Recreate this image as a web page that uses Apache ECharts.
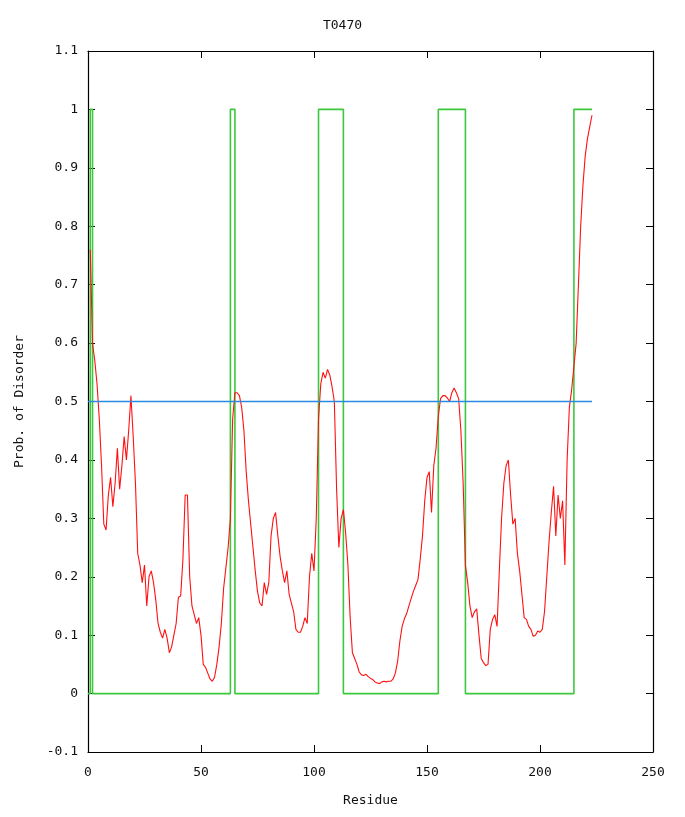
<!DOCTYPE html>
<html>
<head>
<meta charset="utf-8">
<script src="https://cdn.jsdelivr.net/npm/echarts@6/dist/echarts.min.js"></script>
<style>
  html, body { margin: 0; padding: 0; background: #fff; }
  #chart { width: 685px; height: 817px; }
</style>
</head>
<body>
<div id="chart"></div>
<script>
// ---- data ----
const chartTitle = 'T0470';
const xAxisTitle = 'Residue';
const yAxisTitle = 'Prob. of Disorder';

// probability of disorder for residues 1..223
const firstResidue = 1;
const disorderProb = [
  0.76, 0.60, 0.57, 0.53, 0.47, 0.39, 0.29, 0.28, 0.34, 0.37,
  0.32, 0.36, 0.42, 0.35, 0.39, 0.44, 0.40, 0.45, 0.51, 0.44,
  0.36, 0.24, 0.22, 0.19, 0.22, 0.15, 0.20, 0.21, 0.19, 0.16,
  0.12, 0.105, 0.095, 0.11, 0.095, 0.07, 0.08, 0.10, 0.12, 0.165,
  0.167, 0.23, 0.34, 0.34, 0.20, 0.15, 0.135, 0.12, 0.13, 0.10,
  0.05, 0.045, 0.035, 0.025, 0.021, 0.028, 0.05, 0.08, 0.12, 0.18,
  0.215, 0.25, 0.30, 0.47, 0.515, 0.515, 0.51, 0.49, 0.45, 0.38,
  0.33, 0.29, 0.25, 0.21, 0.175, 0.155, 0.15, 0.19, 0.17, 0.19,
  0.27, 0.30, 0.31, 0.27, 0.235, 0.21, 0.19, 0.21, 0.17, 0.155,
  0.14, 0.11, 0.105, 0.105, 0.115, 0.13, 0.12, 0.20, 0.24, 0.21,
  0.30, 0.47, 0.53, 0.55, 0.54, 0.555, 0.545, 0.525, 0.50, 0.35,
  0.25, 0.30, 0.315, 0.275, 0.22, 0.13, 0.07, 0.06, 0.05, 0.037,
  0.032, 0.031, 0.033, 0.029, 0.026, 0.024, 0.02, 0.018, 0.017, 0.02,
  0.021, 0.02, 0.021, 0.021, 0.025, 0.035, 0.055, 0.09, 0.115, 0.128,
  0.137, 0.15, 0.163, 0.175, 0.185, 0.195, 0.23, 0.27, 0.33, 0.37,
  0.38, 0.31, 0.39, 0.42, 0.475, 0.505, 0.51, 0.51, 0.506, 0.50,
  0.515, 0.523, 0.515, 0.505, 0.45, 0.36, 0.22, 0.19, 0.15, 0.13,
  0.14, 0.145, 0.10, 0.06, 0.053, 0.048, 0.05, 0.11, 0.127, 0.135,
  0.115, 0.21, 0.30, 0.36, 0.39, 0.40, 0.34, 0.29, 0.30, 0.24,
  0.21, 0.17, 0.13, 0.127, 0.115, 0.11, 0.098, 0.10, 0.107, 0.105,
  0.11, 0.14, 0.20, 0.26, 0.31, 0.355, 0.27, 0.34, 0.30, 0.33,
  0.22, 0.40, 0.49, 0.52, 0.56, 0.60, 0.70, 0.80, 0.87, 0.92,
  0.95, 0.97, 0.99
];

// binary disorder prediction for residues 0..223
const predStart = 0;
const predDisorder = [
  0, 1, 0, 0, 0, 0, 0, 0, 0, 0,   //   0-9
  0, 0, 0, 0, 0, 0, 0, 0, 0, 0,   //  10-19
  0, 0, 0, 0, 0, 0, 0, 0, 0, 0,   //  20-29
  0, 0, 0, 0, 0, 0, 0, 0, 0, 0,   //  30-39
  0, 0, 0, 0, 0, 0, 0, 0, 0, 0,   //  40-49
  0, 0, 0, 0, 0, 0, 0, 0, 0, 0,   //  50-59
  0, 0, 0, 1, 1, 0, 0, 0, 0, 0,   //  60-69
  0, 0, 0, 0, 0, 0, 0, 0, 0, 0,   //  70-79
  0, 0, 0, 0, 0, 0, 0, 0, 0, 0,   //  80-89
  0, 0, 0, 0, 0, 0, 0, 0, 0, 0,   //  90-99
  0, 0, 1, 1, 1, 1, 1, 1, 1, 1,   // 100-109
  1, 1, 1, 0, 0, 0, 0, 0, 0, 0,   // 110-119
  0, 0, 0, 0, 0, 0, 0, 0, 0, 0,   // 120-129
  0, 0, 0, 0, 0, 0, 0, 0, 0, 0,   // 130-139
  0, 0, 0, 0, 0, 0, 0, 0, 0, 0,   // 140-149
  0, 0, 0, 0, 0, 1, 1, 1, 1, 1,   // 150-159
  1, 1, 1, 1, 1, 1, 1, 0, 0, 0,   // 160-169
  0, 0, 0, 0, 0, 0, 0, 0, 0, 0,   // 170-179
  0, 0, 0, 0, 0, 0, 0, 0, 0, 0,   // 180-189
  0, 0, 0, 0, 0, 0, 0, 0, 0, 0,   // 190-199
  0, 0, 0, 0, 0, 0, 0, 0, 0, 0,   // 200-209
  0, 0, 0, 0, 0, 1, 1, 1, 1, 1,   // 210-219
  1, 1, 1, 1                      // 220-223
];

// threshold line
const threshold = 0.5;
const thresholdRange = [0, 223];

// axes
const xMin = 0, xMax = 250, xStep = 50;
const yMin = -0.1, yMax = 1.1, yStep = 0.1;

// ---- build ----
const FONT = 'DejaVu Sans Mono';
const probPairs = disorderProb.map((v, i) => [firstResidue + i, v]);
const predPairs = predDisorder.map((v, i) => [predStart + i, v]);
const threshPairs = thresholdRange.map(x => [x, threshold]);

const chart = echarts.init(document.getElementById('chart'), null, { renderer: 'canvas' });

const fmtY = v => String(parseFloat(Number(v).toFixed(1)));
const frameLine = { show: true, onZero: false, lineStyle: { color: '#000', width: 1.2 } };
const tickIn = { show: true, inside: true, length: 7, lineStyle: { color: '#000', width: 1 } };
const labelStyle = { color: '#111', fontFamily: FONT, fontSize: 13 };

chart.setOption({
  animation: false,
  backgroundColor: '#fff',
  title: {
    text: chartTitle,
    left: 'center',
    top: 14,
    textStyle: { fontFamily: FONT, fontSize: 13, fontWeight: 'normal', color: '#111' }
  },
  grid: { left: 88, right: 32, top: 51, bottom: 65, containLabel: false },
  xAxis: [
    {
      type: 'value', min: xMin, max: xMax, interval: xStep, position: 'bottom',
      axisLine: frameLine, axisTick: tickIn, splitLine: { show: false },
      axisLabel: Object.assign({ margin: 14 }, labelStyle),
      name: xAxisTitle, nameLocation: 'middle', nameGap: 42,
      nameTextStyle: { fontFamily: FONT, fontSize: 13, color: '#111' }
    },
    {
      type: 'value', min: xMin, max: xMax, interval: xStep, position: 'top',
      axisLine: frameLine, axisTick: tickIn, splitLine: { show: false },
      axisLabel: { show: false }
    }
  ],
  yAxis: [
    {
      type: 'value', min: yMin, max: yMax, interval: yStep, position: 'left',
      axisLine: frameLine, axisTick: tickIn, splitLine: { show: false },
      axisLabel: Object.assign({ margin: 10, formatter: fmtY }, labelStyle),
      name: yAxisTitle, nameLocation: 'middle', nameGap: 62, nameRotate: 90,
      nameTextStyle: { fontFamily: FONT, fontSize: 13, color: '#111' }
    },
    {
      type: 'value', min: yMin, max: yMax, interval: yStep, position: 'right',
      axisLine: frameLine, axisTick: tickIn, splitLine: { show: false },
      axisLabel: { show: false }
    }
  ],
  series: [
    {
      name: 'prediction', type: 'line', step: 'end', data: predPairs,
      xAxisIndex: 0, yAxisIndex: 0, showSymbol: false, symbol: 'none',
      lineStyle: { color: '#3cc83c', width: 1.6 }, z: 2
    },
    {
      name: 'probability', type: 'line', data: probPairs,
      xAxisIndex: 0, yAxisIndex: 0, showSymbol: false, symbol: 'none',
      lineStyle: { color: '#ff1010', width: 1.1 }, z: 3
    },
    {
      name: 'threshold', type: 'line', data: threshPairs,
      xAxisIndex: 0, yAxisIndex: 0, showSymbol: false, symbol: 'none',
      lineStyle: { color: '#2a8ae0', width: 1.6 }, z: 4
    }
  ]
});
</script>
</body>
</html>
